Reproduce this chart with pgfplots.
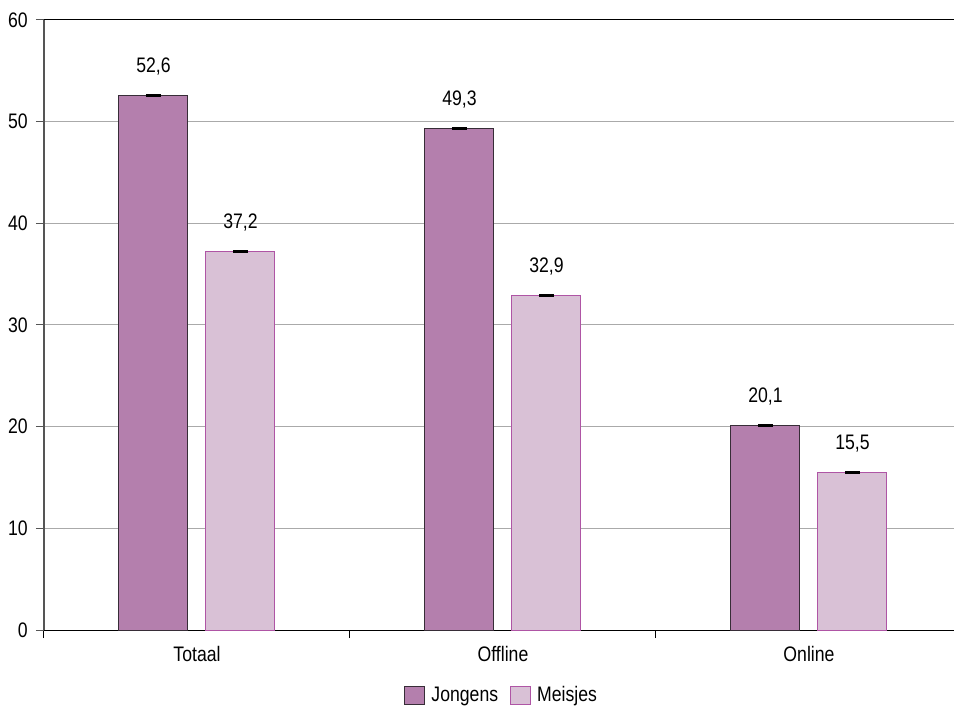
\documentclass[border=0pt]{standalone}
\usepackage{fontspec}
\setmainfont{Liberation Sans}[FakeStretch=0.84]
\usepackage{pgfplots}
\pgfplotsset{compat=1.18}
\usetikzlibrary{calc}
\definecolor{jong}{RGB}{180,127,173}
\definecolor{jongedge}{RGB}{55,45,55}
\definecolor{meis}{RGB}{217,193,214}
\definecolor{meisedge}{RGB}{175,85,165}
\definecolor{gridc}{RGB}{170,170,170}
\definecolor{axc}{RGB}{85,85,85}
\begin{document}
\fontsize{21}{25}\selectfont
\begin{tikzpicture}
\begin{axis}[
  name=ax,
  scale only axis,
  width=910pt, height=610pt,
  xmin=-0.5, xmax=2.474,
  ymin=0, ymax=60,
  ytick={0,10,...,60},
  xtick={-0.5,0.5,1.5},
  xticklabels={},
  extra x ticks={0,1,2},
  extra x tick labels={Totaal,Offline,Online},
  extra x tick style={major tick length=0pt, grid=none, xticklabel style={yshift=-9pt}},
  major x tick style={black, line width=1pt},
  major y tick style={axc, line width=1pt},
  major tick length=8pt,
  tick align=outside,
  ymajorgrids,
  grid style={gridc, line width=1pt},
  axis x line*=bottom,
  axis y line*=left,
  x axis line style={black, line width=1pt, -},
  y axis line style={axc, line width=1.2pt, -},
  ticklabel style={font=\fontsize{21}{25}\selectfont},
  /pgf/number format/assume math mode=true,
  yticklabel style={xshift=-1pt},
  legend style={at={(0.503,-0.108)}, anchor=center, draw=none, fill=none, font=\fontsize{21}{25}\selectfont, legend columns=2, /tikz/every even column/.append style={column sep=10pt}},
  legend image code/.code={\draw[#1] (0pt,-9pt) rectangle (20pt,9pt); \path (24pt,0pt);},
]
\addplot[ybar, bar width=69pt, bar shift=-43.5pt, fill=jong, draw=jongedge, line width=1pt,
  nodes near coords={\pgfmathprintnumber[use comma,fixed,fixed zerofill,precision=1]{\pgfplotspointmeta}},
  every node near coord/.append style={font=\fontsize{21}{25}\selectfont, anchor=base, yshift=23pt, xshift=-43.5pt, black}]
  coordinates {(0,52.6) (1,49.3) (2,20.1)};
\addplot[ybar, bar width=69pt, bar shift=43.5pt, fill=meis, draw=meisedge, line width=1pt,
  nodes near coords={\pgfmathprintnumber[use comma,fixed,fixed zerofill,precision=1]{\pgfplotspointmeta}},
  every node near coord/.append style={font=\fontsize{21}{25}\selectfont, anchor=base, yshift=23pt, xshift=43.5pt, black}]
  coordinates {(0,37.2) (1,32.9) (2,15.5)};
\legend{Jongens, Meisjes}
\addplot[forget plot, only marks, mark=-, mark size=7.5pt, mark options={line width=2.8pt, black}]
  coordinates {(-0.1422,52.6) (0.8578,49.3) (1.8578,20.1) (0.1422,37.2) (1.1422,32.9) (2.1422,15.5)};
\draw[black, line width=1pt] (rel axis cs:0,1) -- (rel axis cs:1,1);
\coordinate (a) at (rel axis cs:0,0);
\coordinate (b) at (rel axis cs:1,1);
\end{axis}
\pgfresetboundingbox
\path[use as bounding box] ($(a)+(-44pt,-81pt)$) rectangle ($(b)+(0pt,20pt)$);
\end{tikzpicture}
\end{document}
